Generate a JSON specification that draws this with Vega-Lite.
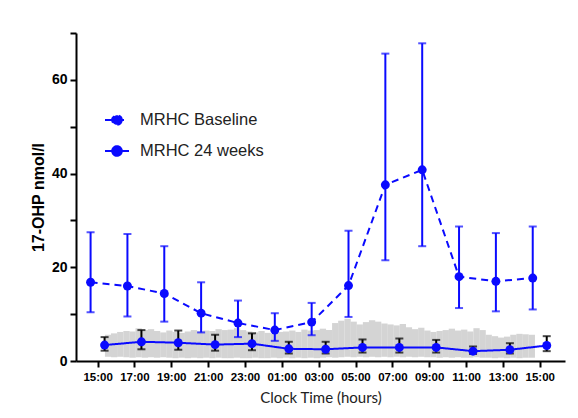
{
  "$schema": "https://vega.github.io/schema/vega-lite/v6.json",
  "width": 489,
  "height": 328,
  "autosize": {"type": "none"},
  "padding": {"left": 76, "top": 33, "right": 13, "bottom": 57},
  "background": "white",
  "config": {
    "view": {"stroke": null},
    "axis": {"grid": false, "domainColor": "black", "domainWidth": 2, "tickColor": "black", "tickWidth": 2, "tickSize": 6, "labelColor": "black", "labelFont": "Liberation Sans", "labelFontWeight": "bold", "titleColor": "black"}
  },
  "datasets": {
    "series": [
      {"hour": 0, "series": "MRHC Baseline", "mean": 16.8, "lo": 10.4, "hi": 27.5},
      {"hour": 2, "series": "MRHC Baseline", "mean": 16.0, "lo": 9.5, "hi": 27.1},
      {"hour": 4, "series": "MRHC Baseline", "mean": 14.4, "lo": 8.4, "hi": 24.5},
      {"hour": 6, "series": "MRHC Baseline", "mean": 10.2, "lo": 6.1, "hi": 16.8},
      {"hour": 8, "series": "MRHC Baseline", "mean": 8.1, "lo": 5.1, "hi": 12.9},
      {"hour": 10, "series": "MRHC Baseline", "mean": 6.6, "lo": 4.3, "hi": 10.2},
      {"hour": 12, "series": "MRHC Baseline", "mean": 8.3, "lo": 5.5, "hi": 12.4},
      {"hour": 14, "series": "MRHC Baseline", "mean": 16.1, "lo": 9.4, "hi": 27.8},
      {"hour": 16, "series": "MRHC Baseline", "mean": 37.6, "lo": 21.5, "hi": 65.6},
      {"hour": 18, "series": "MRHC Baseline", "mean": 40.8, "lo": 24.5, "hi": 67.8},
      {"hour": 20, "series": "MRHC Baseline", "mean": 18.0, "lo": 11.3, "hi": 28.7},
      {"hour": 22, "series": "MRHC Baseline", "mean": 17.0, "lo": 10.6, "hi": 27.3},
      {"hour": 24, "series": "MRHC Baseline", "mean": 17.7, "lo": 11.0, "hi": 28.7},
      {"hour": 0, "series": "MRHC 24 weeks", "mean": 3.4, "lo": 2.2, "hi": 5.1},
      {"hour": 2, "series": "MRHC 24 weeks", "mean": 4.1, "lo": 2.5, "hi": 6.6},
      {"hour": 4, "series": "MRHC 24 weeks", "mean": 3.9, "lo": 2.4, "hi": 6.5},
      {"hour": 6, "series": "MRHC 24 weeks", "mean": 3.5, "lo": 2.2, "hi": 5.6},
      {"hour": 8, "series": "MRHC 24 weeks", "mean": 3.7, "lo": 2.3, "hi": 5.9},
      {"hour": 10, "series": "MRHC 24 weeks", "mean": 2.6, "lo": 1.6, "hi": 4.1},
      {"hour": 12, "series": "MRHC 24 weeks", "mean": 2.5, "lo": 1.6, "hi": 4.1},
      {"hour": 14, "series": "MRHC 24 weeks", "mean": 2.9, "lo": 1.8, "hi": 4.6},
      {"hour": 16, "series": "MRHC 24 weeks", "mean": 2.9, "lo": 1.8, "hi": 4.8},
      {"hour": 18, "series": "MRHC 24 weeks", "mean": 2.9, "lo": 1.8, "hi": 4.5},
      {"hour": 20, "series": "MRHC 24 weeks", "mean": 2.1, "lo": 1.5, "hi": 3.1},
      {"hour": 22, "series": "MRHC 24 weeks", "mean": 2.4, "lo": 1.6, "hi": 3.8},
      {"hour": 24, "series": "MRHC 24 weeks", "mean": 3.3, "lo": 2.1, "hi": 5.3}
    ],
    "ref": [
      {"t": 0.57, "lo": 0.9, "hi": 5.6}, {"t": 0.9, "lo": 0.8, "hi": 5.9},
      {"t": 1.23, "lo": 0.9, "hi": 6.2}, {"t": 1.57, "lo": 0.8, "hi": 6.4}, {"t": 1.9, "lo": 0.7, "hi": 6.3},
      {"t": 2.23, "lo": 0.8, "hi": 7.0}, {"t": 2.57, "lo": 0.7, "hi": 6.6}, {"t": 2.9, "lo": 0.8, "hi": 6.8},
      {"t": 3.23, "lo": 0.7, "hi": 6.4}, {"t": 3.57, "lo": 0.8, "hi": 6.1}, {"t": 3.9, "lo": 0.7, "hi": 6.5},
      {"t": 4.23, "lo": 0.6, "hi": 6.2}, {"t": 4.57, "lo": 0.7, "hi": 6.0}, {"t": 4.9, "lo": 0.6, "hi": 6.3},
      {"t": 5.23, "lo": 0.7, "hi": 6.6}, {"t": 5.57, "lo": 0.6, "hi": 6.3}, {"t": 5.9, "lo": 0.7, "hi": 6.5},
      {"t": 6.23, "lo": 0.6, "hi": 6.4}, {"t": 6.57, "lo": 0.7, "hi": 6.8}, {"t": 6.9, "lo": 0.6, "hi": 6.6},
      {"t": 7.23, "lo": 0.6, "hi": 6.7}, {"t": 7.57, "lo": 0.7, "hi": 7.0}, {"t": 7.9, "lo": 0.6, "hi": 6.6},
      {"t": 8.23, "lo": 0.6, "hi": 6.3}, {"t": 8.57, "lo": 0.7, "hi": 6.1}, {"t": 8.9, "lo": 0.6, "hi": 6.4},
      {"t": 9.23, "lo": 0.6, "hi": 6.0}, {"t": 9.57, "lo": 0.7, "hi": 5.8}, {"t": 9.9, "lo": 0.6, "hi": 6.2},
      {"t": 10.23, "lo": 0.7, "hi": 6.3}, {"t": 10.57, "lo": 0.6, "hi": 6.5}, {"t": 10.9, "lo": 0.7, "hi": 6.2},
      {"t": 11.23, "lo": 0.6, "hi": 6.7}, {"t": 11.57, "lo": 0.7, "hi": 6.5}, {"t": 11.9, "lo": 0.6, "hi": 6.6},
      {"t": 12.23, "lo": 0.7, "hi": 6.9}, {"t": 12.57, "lo": 0.8, "hi": 6.6}, {"t": 12.9, "lo": 0.7, "hi": 8.1},
      {"t": 13.23, "lo": 0.8, "hi": 8.6}, {"t": 13.57, "lo": 0.9, "hi": 9.0}, {"t": 13.9, "lo": 0.8, "hi": 8.4},
      {"t": 14.23, "lo": 0.9, "hi": 7.8}, {"t": 14.57, "lo": 0.8, "hi": 8.3}, {"t": 14.9, "lo": 0.9, "hi": 8.7},
      {"t": 15.23, "lo": 0.8, "hi": 8.4}, {"t": 15.57, "lo": 0.9, "hi": 8.0}, {"t": 15.9, "lo": 0.8, "hi": 7.8},
      {"t": 16.23, "lo": 0.9, "hi": 7.6}, {"t": 16.57, "lo": 0.8, "hi": 7.9}, {"t": 16.9, "lo": 0.9, "hi": 7.2},
      {"t": 17.23, "lo": 0.8, "hi": 6.8}, {"t": 17.57, "lo": 0.9, "hi": 7.1}, {"t": 17.9, "lo": 0.8, "hi": 6.5},
      {"t": 18.23, "lo": 0.8, "hi": 6.2}, {"t": 18.57, "lo": 0.7, "hi": 6.4}, {"t": 18.9, "lo": 0.8, "hi": 6.6},
      {"t": 19.23, "lo": 0.7, "hi": 6.9}, {"t": 19.57, "lo": 0.8, "hi": 6.5}, {"t": 19.9, "lo": 0.7, "hi": 6.7},
      {"t": 20.23, "lo": 0.7, "hi": 6.3}, {"t": 20.57, "lo": 0.8, "hi": 7.0}, {"t": 20.9, "lo": 0.7, "hi": 6.6},
      {"t": 21.23, "lo": 0.7, "hi": 5.6}, {"t": 21.57, "lo": 0.6, "hi": 5.3}, {"t": 21.9, "lo": 0.7, "hi": 5.0},
      {"t": 22.23, "lo": 0.6, "hi": 5.2}, {"t": 22.57, "lo": 0.7, "hi": 5.6}, {"t": 22.9, "lo": 0.6, "hi": 5.8},
      {"t": 23.23, "lo": 0.7, "hi": 5.7}, {"t": 23.57, "lo": 0.7, "hi": 5.6}
    ]
  },
  "encoding": {
    "x": {"field": "hour", "type": "quantitative",
      "scale": {"domain": [-0.9, 25.1], "nice": false, "zero": false},
      "axis": {"values": [0, 2, 4, 6, 8, 10, 12, 14, 16, 18, 20, 22, 24],
        "labelExpr": "(((datum.value + 15) % 24) < 10 ? '0' : '') + ((datum.value + 15) % 24) + ':00'",
        "labelFontSize": 11.5, "labelPadding": 4, "labelFlush": false, "labelOverlap": false,
        "title": "Clock Time (hours)", "titleFont": "Lato", "titleFontSize": 15, "titleFontWeight": "normal", "titleColor": "#222222", "titlePadding": 8}}
  },
  "layer": [
    {
      "data": {"name": "ref"},
      "mark": {"type": "bar", "width": 6.3, "color": "#d4d4d4"},
      "encoding": {
        "x": {"field": "t", "type": "quantitative"},
        "y": {"field": "lo", "type": "quantitative",
          "scale": {"domain": [0, 70], "nice": false},
          "axis": {"values": [0, 10, 20, 30, 40, 50, 60, 70],
            "labelExpr": "datum.value % 20 == 0 ? datum.label : ''",
            "labelFontSize": 14, "labelPadding": 3,
            "title": "17-OHP nmol/l", "titleFont": "Liberation Sans", "titleFontSize": 16, "titleFontWeight": "bold", "titlePadding": 5}},
        "y2": {"field": "hi"}
      }
    },
    {
      "data": {"name": "series"},
      "transform": [{"filter": "datum.series == 'MRHC Baseline'"}],
      "layer": [
        {"mark": {"type": "line", "strokeWidth": 2, "xOffset": -7},
          "encoding": {
            "y": {"field": "mean", "type": "quantitative"},
            "color": {"field": "series", "type": "nominal",
              "scale": {"domain": ["MRHC Baseline", "MRHC 24 weeks"], "range": ["#0a0aff", "#0a0aff"]},
              "legend": {"title": null, "orient": "none", "legendX": 28, "legendY": 74,
                "symbolType": "M-1,0H1M0.4,0A0.4,0.4,0,1,1,-0.4,0A0.4,0.4,0,1,1,0.4,0Z",
                "symbolSize": 576, "symbolStrokeWidth": 2, "labelFontSize": 16.5, "labelFont": "Liberation Sans",
                "labelColor": "#222222", "labelOffset": 10, "rowPadding": 9, "labelLimit": 300,
                "encode": {"symbols": {"update": {"fill": {"value": "#0a0aff"}}}}}},
            "strokeDash": {"field": "series", "type": "nominal",
              "scale": {"domain": ["MRHC Baseline", "MRHC 24 weeks"], "range": [[7, 5], [1, 0]]},
              "legend": {"title": null, "orient": "none", "legendX": 28, "legendY": 74,
                "symbolType": "M-1,0H1M0.4,0A0.4,0.4,0,1,1,-0.4,0A0.4,0.4,0,1,1,0.4,0Z",
                "symbolSize": 576, "symbolStrokeWidth": 2, "labelFontSize": 16.5, "labelFont": "Liberation Sans",
                "labelColor": "#222222", "labelOffset": 10, "rowPadding": 9, "labelLimit": 300,
                "encode": {"symbols": {"update": {"fill": {"value": "#0a0aff"}}}}}}
          }},
        {"mark": {"type": "rule", "strokeWidth": 2, "color": "#0a0aff", "xOffset": -7},
          "encoding": {"y": {"field": "lo", "type": "quantitative"}, "y2": {"field": "hi"}}},
        {"mark": {"type": "tick", "orient": "horizontal", "size": 8, "thickness": 2, "color": "#0a0aff", "xOffset": -7},
          "encoding": {"y": {"field": "lo", "type": "quantitative"}}},
        {"mark": {"type": "tick", "orient": "horizontal", "size": 8, "thickness": 2, "color": "#0a0aff", "xOffset": -7},
          "encoding": {"y": {"field": "hi", "type": "quantitative"}}},
        {"mark": {"type": "circle", "size": 80, "opacity": 1, "color": "#0a0aff", "xOffset": -7},
          "encoding": {"y": {"field": "mean", "type": "quantitative"}}}
      ]
    },
    {
      "data": {"name": "series"},
      "transform": [{"filter": "datum.series == 'MRHC 24 weeks'"}],
      "layer": [
        {"mark": {"type": "rule", "strokeWidth": 2, "color": "black", "xOffset": 7},
          "encoding": {"y": {"field": "lo", "type": "quantitative"}, "y2": {"field": "hi"}}},
        {"mark": {"type": "tick", "orient": "horizontal", "size": 8, "thickness": 2, "color": "black", "xOffset": 7},
          "encoding": {"y": {"field": "lo", "type": "quantitative"}}},
        {"mark": {"type": "tick", "orient": "horizontal", "size": 8, "thickness": 2, "color": "black", "xOffset": 7},
          "encoding": {"y": {"field": "hi", "type": "quantitative"}}},
        {"mark": {"type": "line", "strokeWidth": 2, "xOffset": 7},
          "encoding": {
            "y": {"field": "mean", "type": "quantitative"},
            "color": {"field": "series", "type": "nominal"},
            "strokeDash": {"field": "series", "type": "nominal"}
          }},
        {"mark": {"type": "circle", "size": 80, "opacity": 1, "color": "#0a0aff", "xOffset": 7},
          "encoding": {"y": {"field": "mean", "type": "quantitative"}}}
      ]
    }
  ]
}
